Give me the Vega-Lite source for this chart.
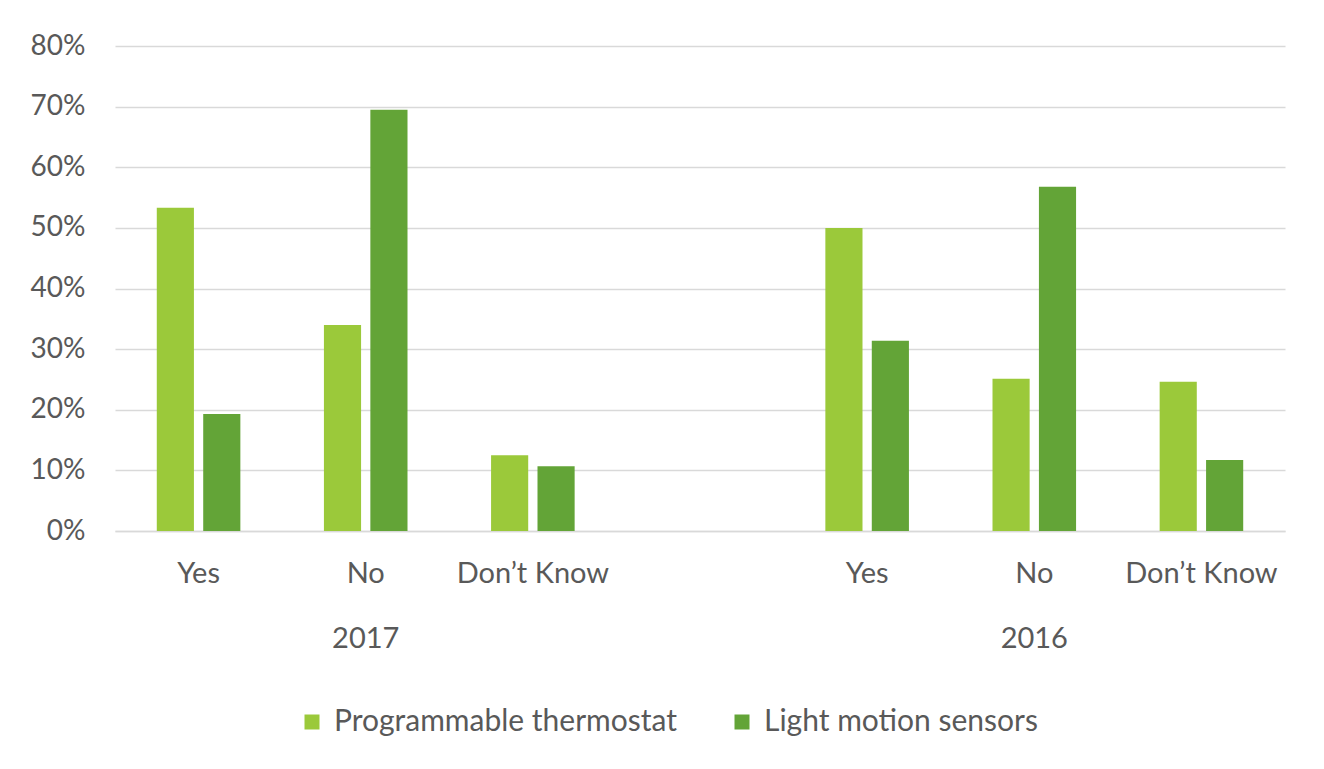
{
  "$schema": "https://vega.github.io/schema/vega-lite/v6.json",
  "autosize": {"type": "none"},
  "width": 1170,
  "height": 485,
  "padding": {"left": 115, "top": 46, "right": 39, "bottom": 238},
  "background": "white",
  "config": {
    "font": "Lato",
    "view": {"stroke": null},
    "axis": {"labelColor": "#595959", "labelFont": "Lato"}
  },
  "data": {
    "values": [
      {"cat": "2017|Yes", "series": "Programmable thermostat", "value": 0.533},
      {"cat": "2017|Yes", "series": "Light motion sensors", "value": 0.193},
      {"cat": "2017|No", "series": "Programmable thermostat", "value": 0.340},
      {"cat": "2017|No", "series": "Light motion sensors", "value": 0.695},
      {"cat": "2017|Don’t Know", "series": "Programmable thermostat", "value": 0.125},
      {"cat": "2017|Don’t Know", "series": "Light motion sensors", "value": 0.107},
      {"cat": "2016|Yes", "series": "Programmable thermostat", "value": 0.500},
      {"cat": "2016|Yes", "series": "Light motion sensors", "value": 0.314},
      {"cat": "2016|No", "series": "Programmable thermostat", "value": 0.251},
      {"cat": "2016|No", "series": "Light motion sensors", "value": 0.568},
      {"cat": "2016|Don’t Know", "series": "Programmable thermostat", "value": 0.246},
      {"cat": "2016|Don’t Know", "series": "Light motion sensors", "value": 0.117}
    ]
  },
  "mark": {"type": "bar"},
  "encoding": {
    "x": {
      "field": "cat",
      "type": "nominal",
      "sort": null,
      "scale": {
        "domain": ["2017|Yes", "2017|No", "2017|Don’t Know", "gap", "2016|Yes", "2016|No", "2016|Don’t Know"],
        "paddingInner": 0.5,
        "paddingOuter": 0.25
      },
      "axis": {
        "title": null,
        "labelAngle": 0,
        "ticks": false,
        "domain": true,
        "domainColor": "#d9d9d9",
        "domainWidth": 1.5,
        "labelPadding": 28,
        "labelFontSize": 29,
        "labelLineHeight": 65,
        "labelBaseline": "top",
        "labelExpr": "datum.value == 'gap' ? '' : (split(datum.value, '|')[1] == 'No' ? [split(datum.value, '|')[1], split(datum.value, '|')[0]] : split(datum.value, '|')[1])"
      }
    },
    "xOffset": {
      "field": "series",
      "type": "nominal",
      "sort": null,
      "scale": {"domain": ["Programmable thermostat", "Light motion sensors"], "paddingInner": 0.2, "paddingOuter": 0}
    },
    "y": {
      "field": "value",
      "type": "quantitative",
      "scale": {"domain": [0, 0.8], "nice": false},
      "axis": {
        "title": null,
        "format": ".0%",
        "values": [0, 0.1, 0.2, 0.3, 0.4, 0.5, 0.6, 0.7, 0.8],
        "domain": false,
        "ticks": false,
        "labelPadding": 30,
        "labelFontSize": 28,
        "gridColor": "#d9d9d9",
        "gridWidth": 1.5
      }
    },
    "color": {
      "field": "series",
      "type": "nominal",
      "sort": null,
      "scale": {"domain": ["Programmable thermostat", "Light motion sensors"], "range": ["#9BC93A", "#63A437"]},
      "legend": {
        "title": null,
        "orient": "none",
        "direction": "horizontal",
        "legendX": 182,
        "legendY": 661,
        "symbolType": "square",
        "symbolSize": 225,
        "symbolStrokeWidth": 0,
        "labelFontSize": 30,
        "labelColor": "#595959",
        "labelOffset": 7,
        "columnPadding": 50,
        "labelLimit": 500
      }
    }
  }
}
